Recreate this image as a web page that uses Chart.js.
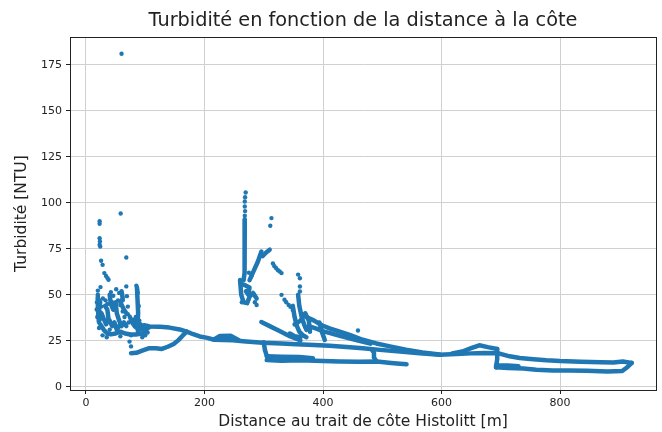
<!DOCTYPE html>
<html>
<head>
<meta charset="utf-8">
<script src="https://cdn.jsdelivr.net/npm/chart.js@4"></script>
<style>
  html, body { margin: 0; padding: 0; background: #fff; }
</style>
</head>
<body>
<canvas id="chart" width="662" height="432"></canvas>
<script>
// Axis ticks
const xTicks = [0, 200, 400, 600, 800];
const yTicks = [0, 25, 50, 75, 100, 125, 150, 175];

// Survey passes: [distance to shoreline (m), turbidity (NTU)]
// Dense stretches of the record are drawn as continuous passes.
const passLongshore = [[98,33.5],[107,32.8],[125,32.6],[141,32.2],[158,31.2],[170,30],[181,28.6],[192,27.4],[205,26.6],[216,25.6],[232,25.4],[248,25.3],[265,24.8],[298,24],[330,23.6],[355,23.2],[385,22.8],[411,22.4],[440,21.6],[467,21],[496,20.1],[530,19.2],[563,18.3],[597,17.5],[625,17.8],[650,18.2],[672,18.4],[695,18.3],[715,16.6],[732,15.7],[755,15],[777,14.4],[800,14],[835,13.7],[870,13.4],[890,13.3],[906,13.8],[921,13]];
const passOffshoreReturn = [[921,13],[914,10.8],[905,8.6],[880,8.4],[845,8.8],[815,8.9],[788,8.9],[760,9.3],[738,10],[712,10.2],[692,10.6]];
const passOffshoreBlock = [[692,11.6],[712,11.6],[730,11.2]];
const passOffshoreDrop = [[694,20.6],[694,15],[692,10.6]];
const passOffshoreArc = [[618,18.2],[635,19.2],[650,21],[664,22.6],[678,21.6],[694,20.6]];
const passMidArc = [[216,25.8],[226,27.6],[244,27.8],[258,25.4]];
const passShoreReturn = [[76,18.3],[85,18.5],[96,19.8],[107,21],[118,21],[128,20.6],[138,21.8],[148,23.3],[156,25.4],[163,27.8],[170,30]];

// Near-shore cluster
const shoreColumn = [[20,50],[20,44],[21,38],[22,35]];
const shoreColumn2 = [[20,48],[24,46],[22,42],[26,38],[22,36]];
const shoreBottom = [[24,34],[30,31],[36,29],[42,28.5],[50,29],[58,30],[66,29],[75,28.5],[84,28.5],[95,29],[100,31],[107,32.5]];
const shoreBlobA = [[26,40],[30,37],[34,34],[38,37],[36,42],[32,44]];
const shoreBlobB = [[40,50],[42,45],[46,42],[50,46],[52,40],[56,36],[60,33],[64,35],[68,33]];
const shoreBlobD = [[40,36],[44,33],[48,35],[52,31],[56,33]];
const shoreBlobE = [[60,52],[62,48],[58,46],[64,42],[68,40]];
const shoreColumnFar = [[86,54],[87,47],[88,40],[87,34],[88,29]];
const shoreBlobC = [[74,38],[78,35],[82,33],[90,31],[96,32],[100,30]];
const shoreBlobF = [[82,36],[86,33],[92,34],[98,31],[104,33]];

// Plume near 270 m and cluster near 360 m
const plumeCore = [[268,91],[268,80],[267,70],[268,62],[266,58]];
const plumeBase = [[260,58],[262,50],[266,46],[272,45.5],[276,49],[282,51],[288,48]];
const plumeBase2 = [[262,56],[270,55],[276,54],[274,50],[270,52]];
const plumeBranch = [[276,58],[283,63],[290,68],[296,73.5]];
const plumeBranch2 = [[298,71],[304,73],[310,74.5]];
const clusterA = [[349,44],[352,38],[356,33],[360,30],[366,28],[372,27]];
const clusterB = [[358,50],[360,44],[364,38],[368,34],[372,31]];
const clusterC = [[352,34],[362,36],[370,40],[376,36],[378,30]];
const clusterD = [[344,29],[352,27.5],[362,27]];
const clusterUpper = [[372,38],[385,36],[398,33.5],[411,31.8],[423,30.6],[445,28.2],[467,25.6],[490,23.6],[513,22],[540,20.2],[568,18.7],[597,17.6]];
const clusterLower = [[376,33],[390,31.5],[402,30],[412,29.2],[430,27.6],[456,25.4],[480,23.5]];
const clusterLink = [[394,35],[398,30],[403,25.5]];
const crossDiagonal = [[296,35.2],[310,33],[325,30.6],[344,27.5],[362,25.2]];
const lowDrop = [[300,24.3],[302,20],[305,17],[310,16.2]];
const lowBand17 = [[305,16.6],[330,16.4],[360,16.2],[383,15.6]];
const lowBand14 = [[305,14.6],[330,14.2],[361,14.4],[400,14],[428,13.8],[460,13.7],[491,13.8],[515,13],[530,12.6],[541,12.3]];
const lowLink = [[482,20.4],[486,18.5],[486,16],[490,14]];

// Isolated readings
const dotsShore = [[60,181],[23,90],[23,88.6],[58.5,94.2],[23,80.8],[23.5,79],[23,77.2],[24,76.2],[25.5,68.5],[28,66.3],[31,61.8],[33.8,60.3],[36.5,59],[38,58.2],[68,70.3],[24.5,54.2],[20,52.3],[51,53],[68,54.6],[85,55],[86.5,52.7],[87.5,51.2],[28.5,48],[25.7,43.6],[69,49.3],[70.6,43.6],[70.6,39.5],[76,28],[73.5,24.6],[76,22],[42,51.5],[46,49.5],[54,47],[58,44.5],[44,46],[48,43],[36,45],[33,47],[62,41],[65,38],[72,35],[80,36.5],[84,38],[89,44],[90,36],[18,42],[18.5,46],[19,38],[22,32],[28,28],[35,27],[40,31],[52,32],[58,27.5],[95,27],[100,28],[104,29.5],[62,47],[56,51]];
const dotsPlume = [[269.5,105.6],[268.5,103],[268,100.7],[268,98],[268.5,95.5],[268,93],[313,91.7],[311,87.5],[315.5,67],[318,65.6],[321,64.5],[324,63.4],[327,62.7],[330,61.8],[358,61],[361,59],[361,54.5],[361,51.8],[330,50],[335,47.3],[338,46],[342,44.5],[345,43.5],[349,41.8],[459,30.6],[263,46],[285,46],[288,44.5],[275,62],[279,60]];

const BLUE = '#1f77b4';
const FONT = 'DejaVu Sans';
const INK = '#222';

const passes = [passLongshore, passOffshoreReturn, passOffshoreBlock, passOffshoreDrop, passOffshoreArc,
  passMidArc, passShoreReturn, shoreColumn, shoreColumn2, shoreBottom, shoreBlobA, shoreBlobB, shoreBlobD,
  shoreBlobE, shoreColumnFar, shoreBlobC, shoreBlobF,
  plumeCore, plumeBase, plumeBase2, plumeBranch, plumeBranch2, clusterA, clusterB, clusterC, clusterD,
  clusterUpper, clusterLower, clusterLink, crossDiagonal, lowDrop, lowBand17, lowBand14, lowLink];
const dotSets = [dotsShore, dotsPlume];

const toXY = arr => arr.map(([x, y]) => ({ x, y }));

const datasets = [
  ...passes.map(p => ({
    data: toXY(p), showLine: true, borderColor: BLUE, backgroundColor: BLUE,
    borderWidth: 4.5, pointRadius: 0, borderCapStyle: 'round', borderJoinStyle: 'round'
  })),
  ...dotSets.map(d => ({
    data: toXY(d), showLine: false, backgroundColor: BLUE, borderColor: BLUE,
    borderWidth: 0, pointRadius: 2.2
  }))
];

// Box around the plotting area (top and right edges included)
const frame = {
  id: 'frame',
  afterDatasetsDraw(chart) {
    const { ctx, chartArea: a } = chart;
    ctx.save();
    ctx.strokeStyle = INK;
    ctx.lineWidth = 1;
    ctx.strokeRect(Math.round(a.left) + 0.5, Math.round(a.top) + 0.5,
      Math.round(a.right - a.left), Math.round(a.bottom - a.top));
    ctx.restore();
  }
};

new Chart(document.getElementById('chart'), {
  type: 'scatter',
  data: { datasets },
  plugins: [frame],
  options: {
    responsive: false,
    animation: false,
    devicePixelRatio: 1,
    layout: { padding: { left: 0, right: 6, top: 0, bottom: 0 } },
    plugins: {
      legend: { display: false },
      tooltip: { enabled: false },
      title: {
        display: true,
        fullSize: false,
        text: 'Turbidité en fonction de la distance à la côte',
        color: INK,
        font: { family: FONT, size: 19.3, weight: 'normal' },
        padding: { top: 9, bottom: 5 }
      }
    },
    scales: {
      x: {
        type: 'linear', min: -27, max: 962,
        afterBuildTicks(s) { s.ticks = xTicks.map(v => ({ value: v })); },
        afterFit(s) { s.height = 42; },
        grid: { color: '#d0d0d0', lineWidth: 1, tickColor: INK, tickLength: 4 },
        border: { color: INK, width: 1 },
        ticks: { color: INK, font: { family: FONT, size: 11 }, padding: 3, maxRotation: 0 },
        title: {
          display: true, text: 'Distance au trait de côte Histolitt [m]', color: INK,
          font: { family: FONT, size: 15.5 }, padding: { top: 0, bottom: 1 }
        }
      },
      y: {
        type: 'linear', min: -1.7, max: 190,
        afterBuildTicks(s) { s.ticks = yTicks.map(v => ({ value: v })); },
        afterFit(s) { s.width = 70; },
        grid: { color: '#d0d0d0', lineWidth: 1, tickColor: INK, tickLength: 4 },
        border: { color: INK, width: 1 },
        ticks: { color: INK, font: { family: FONT, size: 11 }, padding: 4 },
        title: {
          display: true, text: 'Turbidité [NTU]', color: INK,
          font: { family: FONT, size: 15.5 }, padding: { top: 13, bottom: 0 }
        }
      }
    }
  }
});
</script>
</body>
</html>
